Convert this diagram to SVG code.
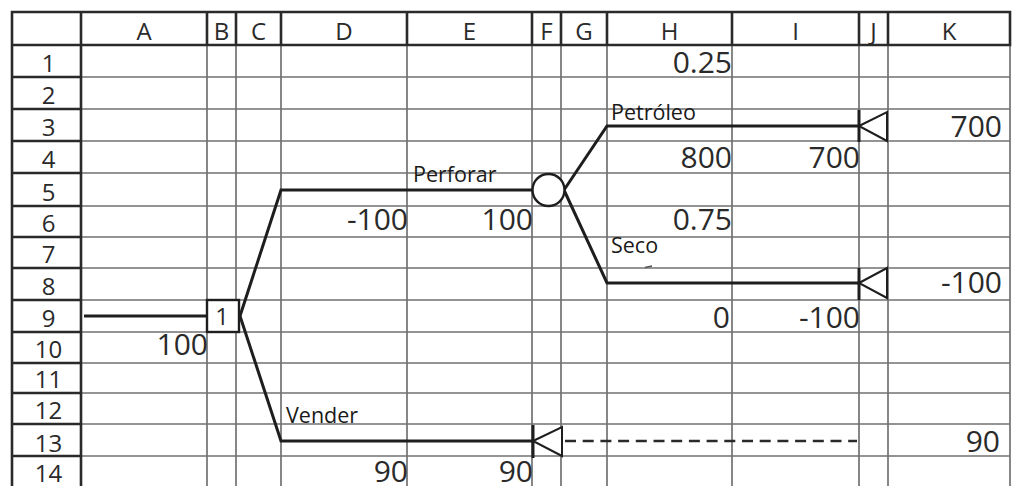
<svg xmlns="http://www.w3.org/2000/svg" width="1012" height="486" viewBox="0 0 1012 486">
<style>
.grid{stroke:#727272;stroke-width:1.7;fill:none}
.frame{stroke:#2a2a2a;stroke-width:2.6;fill:none}
.hdr{font-family:"Open Sans","Noto Sans",sans-serif;font-size:24px;fill:#2a2a2a;text-anchor:middle}
.val{font-family:"Open Sans","Noto Sans",sans-serif;font-size:30px;fill:#2a2a2a;text-anchor:end}
.lbl{font-family:"Open Sans","Noto Sans",sans-serif;font-size:21.5px;fill:#1a1a1a}
.br{stroke:#1e1e1e;stroke-width:3;fill:none;stroke-linejoin:miter}
.node{stroke:#1e1e1e;stroke-width:2.4;fill:#fff}
.bar{stroke:#1e1e1e;stroke-width:3}
</style>
<rect x="0" y="0" width="1012" height="486" fill="#fff"/>
<g id="grid">
  <path class="grid" d="M81 77H1010M81 109H1010M81 141H1010M81 173H1010M81 206H1010M81 237H1010M81 268H1010M81 300H1010M81 332H1010M81 363H1010M81 393H1010M81 424H1010M81 456H1010"/>
  <path class="grid" d="M207 45V486M236 45V486M281 45V486M407 45V486M532 45V486M561 45V486M607 45V486M732 45V486M859 45V486M888 45V486M1010 45V486"/>
  <path class="frame" d="M12 12H1010V45H12ZM12 45V486M81 12V486M207 12V45M236 12V45M281 12V45M407 12V45M532 12V45M561 12V45M607 12V45M732 12V45M859 12V45M888 12V45"/>
  <path class="frame" d="M12 77H81M12 109H81M12 141H81M12 173H81M12 206H81M12 237H81M12 268H81M12 300H81M12 332H81M12 363H81M12 393H81M12 424H81M12 456H81"/>
  <g class="hdr">
    <text x="144" y="40">A</text><text x="221.5" y="40">B</text><text x="258.5" y="40">C</text>
    <text x="344" y="40">D</text><text x="469.5" y="40">E</text><text x="546.5" y="40">F</text>
    <text x="584" y="40">G</text><text x="669.5" y="40">H</text><text x="795.5" y="40">I</text>
    <text x="873.5" y="40">J</text><text x="949" y="40">K</text>
    <text x="48.5" y="72">1</text><text x="48.5" y="104">2</text><text x="48.5" y="136">3</text>
    <text x="48.5" y="168">4</text><text x="48.5" y="201">5</text><text x="48.5" y="232">6</text>
    <text x="48.5" y="263">7</text><text x="48.5" y="295">8</text><text x="48.5" y="327">9</text>
    <text x="48.5" y="358">10</text><text x="48.5" y="388">11</text><text x="48.5" y="419">12</text>
    <text x="48.5" y="452">13</text><text x="48.5" y="482">14</text>
  </g>
  <g class="val">
    <text x="732" y="73">0.25</text>
    <text x="1002" y="137">700</text>
    <text x="732" y="168">800</text>
    <text x="860" y="168">700</text>
    <text x="408" y="230">-100</text>
    <text x="533" y="230">100</text>
    <text x="732" y="230">0.75</text>
    <text x="1002" y="293">-100</text>
    <text x="730" y="328">0</text>
    <text x="860" y="328">-100</text>
    <text x="208" y="355">100</text>
    <text x="1000" y="452">90</text>
    <text x="408" y="482">90</text>
    <text x="533" y="482">90</text>
  </g>
</g>
<g id="connectors">
  <path class="br" d="M84 316H207"/>
  <path class="br" d="M240 316L281 190H533"/>
  <path class="br" d="M240 316L281 441H533"/>
  <path class="br" d="M564 190L607 126H859"/>
  <path class="br" d="M564 190L607 283H859"/>
  <path d="M565 441H857" stroke="#2a2a2a" stroke-width="2.6" stroke-dasharray="11 6.7"/>
  <path d="M645 267.5l7 -1.5" stroke="#555" stroke-width="1.5"/>
  <g class="lbl">
    <text x="611" y="120">Petróleo</text>
    <text x="413" y="182">Perforar</text>
    <text x="611" y="253">Seco</text>
    <text x="286" y="423">Vender</text>
  </g>
</g>
<g id="decision-node">
  <rect class="node" x="207" y="300" width="32" height="32"/>
  <text class="hdr" x="222" y="325">1</text>
</g>
<g id="chance-node">
  <circle class="node" cx="548.5" cy="190" r="16"/>
</g>
<g id="terminal-petroleo">
  <path class="bar" d="M859 110V142"/>
  <polygon class="node" points="859,126 887,112 887,141" style="stroke-width:2"/>
</g>
<g id="terminal-seco">
  <path class="bar" d="M859 268V300"/>
  <polygon class="node" points="859,283 887,268 887,298" style="stroke-width:2"/>
</g>
<g id="terminal-vender">
  <path class="bar" d="M533 425V458"/>
  <polygon class="node" points="533,441 562,427 562,456" style="stroke-width:2"/>
</g>
</svg>
